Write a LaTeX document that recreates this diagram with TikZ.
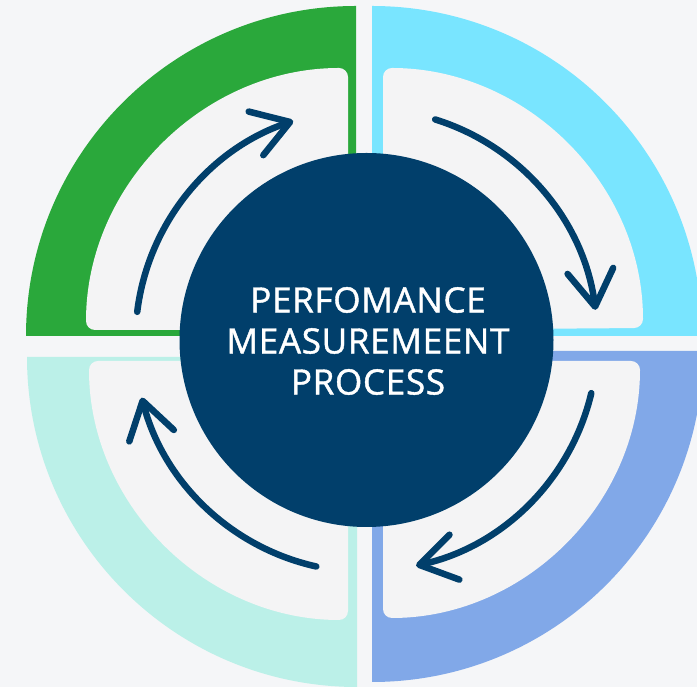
\documentclass[tikz,border=0pt]{standalone}
\usepackage{fontspec}
\setmainfont{Open Sans}
\usetikzlibrary{arrows.meta}
\definecolor{bgc}{HTML}{F5F6F8}
\definecolor{innerc}{HTML}{F4F4F5}
\definecolor{greenq}{HTML}{2AA83B}
\definecolor{cyanq}{HTML}{79E5FF}
\definecolor{tealq}{HTML}{BBF0E8}
\definecolor{blueq}{HTML}{81A8E8}
\definecolor{navy}{HTML}{013F6B}
\tikzset{
  innerreg/.style={fill=innerc, draw=none, rounded corners=9pt},
  cyclearrow/.style={draw=navy, line width=6.5pt, line cap=round,
    -{Straight Barb[length=36pt,width=46pt,round]}},
  centertext/.style={text=white, font=\fontsize{35}{41}\selectfont\addfontfeature{FakeBold=1.2,LetterSpace=2}, align=center}
}
\begin{document}
\begin{tikzpicture}[x=1pt,y=1pt]
\useasboundingbox (0,0) rectangle (697,687);
\clip (0,0) rectangle (697,687);
\fill[bgc] (0,0) rectangle (697,687);
% outer quadrants
\fill[greenq] (356,351) -- (26,351) arc[start angle=180,end angle=90,radius=330] -- cycle;
\fill[cyanq] (372,351) -- (372,681) arc[start angle=90,end angle=0,radius=330] -- cycle;
\fill[tealq] (357,330) -- (357,0) arc[start angle=-90,end angle=-180,radius=330] -- cycle;
\fill[blueq] (372,336) -- (703,336) arc[start angle=0,end angle=-90,radius=331] -- cycle;
% inner regions
\fill[innerreg] (348,357) -- (86,357) arc[start angle=180,end angle=90,radius=262] -- cycle;
\fill[innerreg] (383,357) -- (383,619) arc[start angle=90,end angle=0,radius=260] -- cycle;
\fill[innerreg] (348,326) -- (348,67) arc[start angle=-90,end angle=-180,radius=259] -- cycle;
\fill[innerreg] (383,326) -- (640,326) arc[start angle=0,end angle=-90,radius=257] -- cycle;
% center
\coordinate (c) at (366.5,347);
\node[circle, fill=navy, minimum size=374pt, inner sep=0pt] (hub) at (c) {};
\node[centertext] (title) at (368,346) {PERFOMANCE\\MEASUREMEENT\\PROCESS};
% arrows
\begin{scope}[shift={(c)}]
  \coordinate (gs) at (173:231);
  \coordinate (cs) at (72.7:231);
  \coordinate (bs) at (-13.3:231);
  \coordinate (ts) at (257.5:232);
  \draw[cyclearrow] (gs) arc[start angle=173,end angle=108.5,radius=231];
  \draw[cyclearrow] (cs) arc[start angle=72.7,end angle=7.5,radius=231];
  \draw[cyclearrow] (bs) arc[start angle=-13.3,end angle=-77.6,radius=231];
  \draw[cyclearrow] (ts) arc[start angle=257.5,end angle=194.4,radius=232];
\end{scope}
\end{tikzpicture}
\end{document}
